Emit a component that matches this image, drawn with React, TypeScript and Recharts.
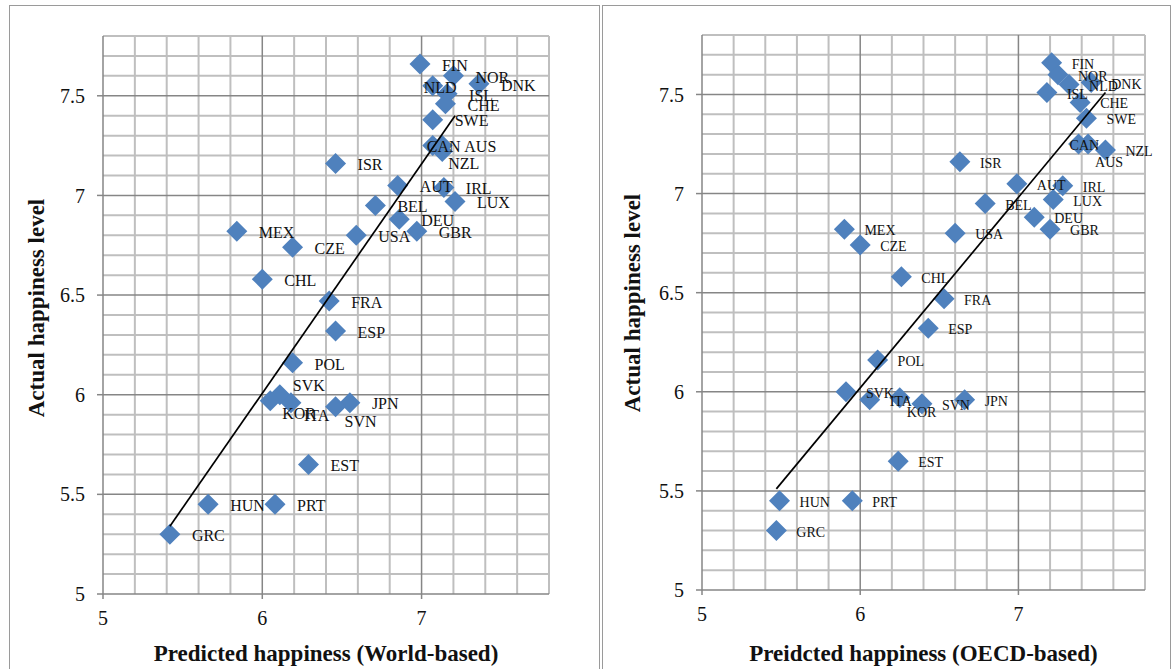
import { ScatterChart, Scatter, XAxis, YAxis, CartesianGrid, Label } from "recharts";

// OECD countries, in the same order in every array below
const countries = [
  "FIN", "NOR", "DNK", "NLD", "ISL", "CHE", "SWE", "CAN", "AUS", "NZL", "ISR",
  "AUT", "IRL", "LUX", "BEL", "DEU", "GBR", "USA", "MEX", "CZE", "CHL", "FRA",
  "ESP", "POL", "SVK", "KOR", "ITA", "JPN", "SVN", "EST", "HUN", "PRT", "GRC",
];

const actualHappiness = [
  7.66, 7.6, 7.56, 7.55, 7.51, 7.46, 7.38, 7.25, 7.25, 7.22, 7.16,
  7.05, 7.04, 6.97, 6.95, 6.88, 6.82, 6.8, 6.82, 6.74, 6.58, 6.47,
  6.32, 6.16, 6.0, 5.97, 5.96, 5.96, 5.94, 5.65, 5.45, 5.45, 5.3,
];

const predictedWorld = [
  6.99, 7.2, 7.36, 7.07, 7.16, 7.15, 7.07, 7.07, 7.13, 7.13, 6.46,
  6.85, 7.14, 7.21, 6.71, 6.86, 6.97, 6.59, 5.84, 6.19, 6.0, 6.42,
  6.46, 6.19, 6.11, 6.05, 6.18, 6.55, 6.46, 6.29, 5.66, 6.08, 5.42,
];

const predictedOecd = [
  7.21, 7.25, 7.46, 7.32, 7.18, 7.39, 7.43, 7.38, 7.44, 7.55, 6.63,
  6.99, 7.28, 7.22, 6.79, 7.1, 7.2, 6.6, 5.9, 6.0, 6.26, 6.53,
  6.43, 6.11, 5.91, 6.25, 6.06, 6.66, 6.39, 6.24, 5.49, 5.95, 5.47,
];

// fitted lines (end points)
const worldTrendX = [5.42, 7.21];
const worldTrendY = [5.34, 7.4];
const oecdTrendX = [5.47, 7.55];
const oecdTrendY = [5.51, 7.51];

const xTicks = [5, 6, 7];
const yTicks = [5, 5.5, 6, 6.5, 7, 7.5];
const xMajorGrid = [6, 7];
const yMajorGrid = [5.5, 6, 6.5, 7, 7.5];
const xMinorGrid = [5.2, 5.4, 5.6, 5.8, 6.2, 6.4, 6.6, 6.8, 7.2, 7.4, 7.6, 7.8];
const yMinorGrid = [
  5.1, 5.2, 5.3, 5.4, 5.6, 5.7, 5.8, 5.9, 6.1, 6.2, 6.3, 6.4, 6.6, 6.7,
  6.8, 6.9, 7.1, 7.2, 7.3, 7.4, 7.6, 7.7, 7.8,
];

const DOMAIN: [number, number] = [5, 7.8];
const AXIS_GREY = "#868686";
const MINOR_GREY = "#bfbfbf";
const MARKER_BLUE = "#4f81bd";
const FONT = "'Liberation Serif', 'Times New Roman', serif";

// label tweaks where the original labels were dragged off their default spot
const worldNudge: Record<string, [number, number]> = {
  NLD: [-31, 0],
  CAN: [-28, 0],
  NZL: [-16, 11],
  SVK: [-9, -10],
  KOR: [-10, 12],
  ITA: [-9, 12],
  SVN: [-13, 14],
};
const oecdNudge: Record<string, [number, number]> = {
  CAN: [-29, 0],
  AUS: [-13, 17],
  KOR: [-13, 13],
};

const gridX = (values: number[]) => (props: any) => {
  const { xAxis, offset } = props;
  if (xAxis && typeof xAxis.scale === "function") return values.map((v) => xAxis.scale(v));
  return values.map((v) => offset.left + ((v - DOMAIN[0]) / (DOMAIN[1] - DOMAIN[0])) * offset.width);
};

const gridY = (values: number[]) => (props: any) => {
  const { yAxis, offset } = props;
  if (yAxis && typeof yAxis.scale === "function") return values.map((v) => yAxis.scale(v));
  return values.map(
    (v) => offset.top + offset.height - ((v - DOMAIN[0]) / (DOMAIN[1] - DOMAIN[0])) * offset.height
  );
};

const Diamond = (props: any) => {
  const { cx, cy } = props;
  if (cx == null || cy == null) return <g />;
  const r = 10.5;
  return (
    <polygon
      points={`${cx},${cy - r} ${cx + r},${cy} ${cx},${cy + r} ${cx - r},${cy}`}
      fill={MARKER_BLUE}
    />
  );
};

interface PanelProps {
  pred: number[];
  trendX: number[];
  trendY: number[];
  xTitle: string;
  nudges: Record<string, [number, number]>;
  labelSize: number;
  labelDx: number;
  width: number;
  margin: { top: number; right: number; bottom: number; left: number };
  yTitleX: number;
  yTitleY: number;
}

function Panel({
  pred,
  trendX,
  trendY,
  xTitle,
  nudges,
  labelSize,
  labelDx,
  width,
  margin,
  yTitleX,
  yTitleY,
}: PanelProps) {
  const data = countries.map((code, i) => ({ code, pred: pred[i], actual: actualHappiness[i] }));
  const trend = trendX.map((x, i) => ({ pred: x, actual: trendY[i] }));

  const CodeLabel = (props: any) => {
    const { cx, cy, payload } = props;
    if (cx == null || cy == null) return <g />;
    const [nx, ny] = nudges[payload.code] || [0, 0];
    return (
      <text
        x={cx + labelDx + nx}
        y={cy + labelSize * 0.36 + 1 + ny}
        fontSize={labelSize}
        fontFamily={FONT}
        fill="#111"
      >
        {payload.code}
      </text>
    );
  };

  const tickStyle = { fill: "#111", fontSize: 20, fontFamily: FONT };

  return (
    <ScatterChart width={width} height={669} margin={margin}>
      <CartesianGrid
        stroke={MINOR_GREY}
        strokeWidth={2}
        horizontalCoordinatesGenerator={gridY(yMinorGrid)}
        verticalCoordinatesGenerator={gridX(xMinorGrid)}
      />
      <CartesianGrid
        stroke={AXIS_GREY}
        strokeWidth={1.5}
        horizontalCoordinatesGenerator={gridY(yMajorGrid)}
        verticalCoordinatesGenerator={gridX(xMajorGrid)}
      />
      <XAxis
        type="number"
        dataKey="pred"
        domain={DOMAIN}
        ticks={xTicks}
        height={40}
        tick={tickStyle}
        tickSize={5}
        tickMargin={12}
        axisLine={{ stroke: AXIS_GREY, strokeWidth: 1.5 }}
        tickLine={{ stroke: AXIS_GREY, strokeWidth: 1.5 }}
      >
        <Label
          content={({ viewBox }: any) => (
            <text
              x={viewBox.x + viewBox.width / 2}
              y={661}
              textAnchor="middle"
              fontSize={23}
              fontWeight="bold"
              fontFamily={FONT}
              fill="#111"
            >
              {xTitle}
            </text>
          )}
        />
      </XAxis>
      <YAxis
        type="number"
        dataKey="actual"
        domain={DOMAIN}
        ticks={yTicks}
        width={60}
        tick={tickStyle}
        tickSize={6}
        tickMargin={12}
        axisLine={{ stroke: AXIS_GREY, strokeWidth: 1.5 }}
        tickLine={{ stroke: AXIS_GREY, strokeWidth: 1.5 }}
      >
        <Label
          content={() => (
            <text
              x={yTitleX}
              y={yTitleY}
              textAnchor="middle"
              dominantBaseline="central"
              transform={`rotate(-90 ${yTitleX} ${yTitleY})`}
              fontSize={23}
              fontWeight="bold"
              fontFamily={FONT}
              fill="#111"
            >
              Actual happiness level
            </text>
          )}
        />
      </YAxis>
      <Scatter data={data} shape={Diamond} isAnimationActive={false} />
      <Scatter
        data={trend}
        line={{ stroke: "#000", strokeWidth: 1.7 }}
        shape={() => <g />}
        isAnimationActive={false}
      />
      <Scatter data={data} shape={CodeLabel} isAnimationActive={false} />
    </ScatterChart>
  );
}

export default function App() {
  return (
    <div
      style={{
        position: "relative",
        width: 1176,
        height: 669,
        overflow: "hidden",
        background: "#fff",
      }}
    >
      <style>{"body{margin:0}"}</style>
      <div
        style={{
          position: "absolute",
          left: 9,
          top: 5,
          width: 589,
          height: 700,
          border: "1px solid #9a9a9a",
        }}
      />
      <div
        style={{
          position: "absolute",
          left: 602,
          top: 5,
          width: 567,
          height: 700,
          border: "1px solid #9a9a9a",
        }}
      />
      <div style={{ position: "absolute", left: 0, top: 0 }}>
        <Panel
          pred={predictedWorld}
          trendX={worldTrendX}
          trendY={worldTrendY}
          xTitle="Predicted happiness (World-based)"
          nudges={worldNudge}
          labelSize={16}
          labelDx={22}
          width={600}
          margin={{ top: 36, right: 51, bottom: 35, left: 43 }}
          yTitleX={36}
          yTitleY={308}
        />
      </div>
      <div style={{ position: "absolute", left: 600, top: 0 }}>
        <Panel
          pred={predictedOecd}
          trendX={oecdTrendX}
          trendY={oecdTrendY}
          xTitle="Preidcted happiness (OECD-based)"
          nudges={oecdNudge}
          labelSize={14}
          labelDx={20}
          width={576}
          margin={{ top: 35, right: 31, bottom: 39, left: 42 }}
          yTitleX={32}
          yTitleY={303}
        />
      </div>
    </div>
  );
}
